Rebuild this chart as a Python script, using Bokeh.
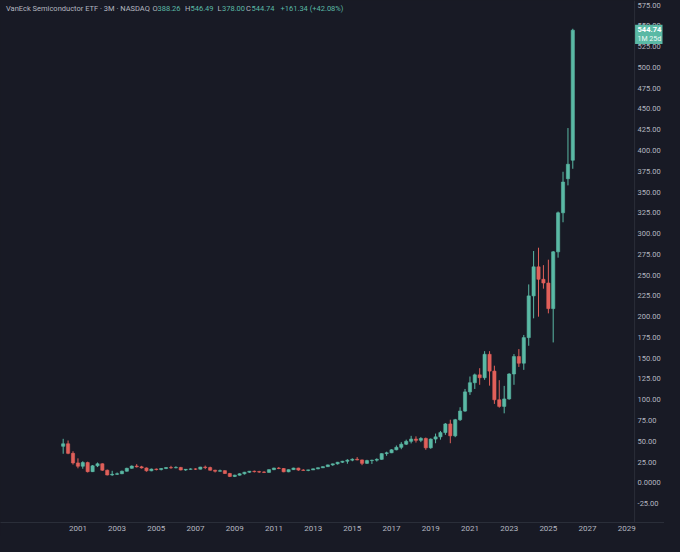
import pandas as pd
from bokeh.plotting import figure
from bokeh.core.properties import value
from bokeh.models import (ColumnDataSource, FixedTicker, DatetimeTickFormatter,
                          Range1d, Label, Span, GlobalInlineStyleSheet)
from bokeh.embed import file_html
from bokeh.resources import INLINE

# ---------------- data (quarterly candles, VanEck Semiconductor ETF) ----------------
first_quarter = "2000-04-01"
opens = [44, 47, 35.5, 24, 20, 24.4, 13.5, 20.5, 23, 15.2,
         9.5, 10.3, 11, 14, 17.5, 20.2, 19.3, 18, 14.5, 16.6,
         16, 17.3, 18.4, 18.1, 18.6, 15.5, 16.3, 16.8, 16.5, 19,
         18.4, 15.2, 14, 14.7, 11.3, 7.8, 9.3, 10.9, 12.8, 14,
         13.5, 13, 12.6, 15.9, 17.8, 17.3, 13.3, 15.9, 17.8, 15.4,
         15, 15.6, 16.9, 18.2, 19.5, 21.6, 22.9, 24.8, 26, 27.3,
         28.4, 27.6, 23.5, 26.8, 27.3, 28.3, 35.2, 36.2, 39.8, 42.8,
         46.5, 50, 52.7, 51.2, 53.5, 42.2, 52.7, 55.4, 60.5, 70.9,
         56.6, 76, 86.4, 109.5, 120.5, 130, 126.5, 154.7, 134.5, 100,
         92, 101, 131, 152, 144, 174.8, 225, 260, 245, 240.5,
         209.7, 278, 325, 366, 388.26]
highs = [53, 51, 38, 29.5, 26, 25.5, 21.5, 24.5, 23.5, 16,
         14.5, 12.5, 14.8, 18.2, 21, 22.5, 20.5, 18.5, 17.2, 17.3,
         17.8, 19, 20.5, 20, 19.2, 16.5, 17.5, 17.5, 19.3, 20.8,
         19.5, 15.8, 16, 15.2, 12, 9.8, 11.5, 13.2, 14.3, 14.8,
         14.5, 14, 16.2, 18.2, 19, 17.8, 16.2, 18.2, 18.2, 16.5,
         15.8, 17.2, 18.5, 19.8, 21.9, 23.2, 25.2, 26.5, 28.5, 29.5,
         31, 28, 27.8, 27.8, 29.5, 35.5, 37.5, 40.5, 45, 49,
         52, 56.6, 56, 55, 54.5, 53.5, 59.3, 62.5, 72, 76,
         77, 91, 113, 128, 131.5, 138, 158.5, 158.5, 141, 123.6,
         116.7, 132, 155, 161, 178, 238.8, 279, 283, 262, 268.6,
         279, 326.5, 374.4, 427, 546.49]
lows = [35, 34.5, 22, 17.5, 17, 12.5, 13, 19, 14.5, 9,
        8.5, 9.5, 10.5, 13.5, 17, 18.5, 17.2, 13.5, 14, 15,
        15, 16.5, 17, 17.5, 15, 14.5, 15.8, 15.5, 16.2, 16.5,
        14.8, 12.5, 13.5, 10.8, 7, 7, 8.8, 10, 12, 12.5,
        12, 11.8, 12.3, 15.3, 16.5, 12.8, 12.8, 15.6, 14.5, 14.6,
        14, 15.5, 16.4, 17.8, 19.2, 20.5, 22, 24, 23, 26,
        27.2, 21.3, 22.8, 22.8, 25.6, 27.8, 32.5, 35.8, 39.2, 40.5,
        45.5, 47.5, 48.5, 49, 39.8, 41, 47.7, 52, 57.8, 47.7,
        55, 74.5, 85.5, 105.8, 113, 118, 124, 117, 95, 90.5,
        83.7, 100, 118, 139.5, 136, 165, 198, 200, 233.7, 204,
        169, 271, 313.6, 358, 378.0]
closes = [47, 35.5, 24, 20, 24.4, 13.5, 20.5, 23, 15.2, 9.5,
          10.3, 11, 14, 17.5, 20.2, 19.3, 18, 14.5, 16.6, 16,
          17.3, 18.4, 18.1, 18.6, 15.5, 16.3, 16.8, 16.5, 19, 18.4,
          15.2, 14, 14.7, 11.3, 7.8, 9.3, 10.9, 12.8, 14, 13.5,
          13, 12.6, 15.9, 17.8, 17.3, 13.3, 15.9, 17.8, 15.4, 15,
          15.6, 16.9, 18.2, 19.5, 21.6, 22.9, 24.8, 26, 27.3, 28.4,
          27.6, 23.5, 26.8, 27.3, 28.3, 35.2, 36.2, 39.8, 42.8, 46.5,
          50, 52.7, 51.2, 53.5, 42.2, 52.7, 55.4, 60.5, 70.9, 56.6,
          76, 86.4, 109.5, 120.5, 130, 126.5, 154.7, 134.5, 100, 92,
          101, 131, 152, 144, 174.8, 225, 260, 245, 240.5, 209.7,
          278, 325, 362, 383.4, 544.74]

price_ticks = [-25, 0, 25, 50, 75, 100, 125, 150, 175, 200, 225, 250, 275, 300,
               325, 350, 375, 400, 425, 450, 475, 500, 525, 550, 575]
year_ticks = [2001, 2003, 2005, 2007, 2009, 2011, 2013, 2015, 2017, 2019,
              2021, 2023, 2025, 2027, 2029]

title_text = "VanEck Semiconductor ETF · 3M · NASDAQ"
last_open, last_high, last_low, last_close = "388.26", "546.49", "378.00", "544.74"
change_text = "+161.34 (+42.08%)"
countdown = "1M 25d"

# ---------------- style ----------------
BG = "#181a25"
UP = "#5ab9a5"
DOWN = "#e0605a"
TXT = "#b4b7c0"
LINE = "#2a2e39"
FONT = "Roboto"

dates = pd.date_range(first_quarter, periods=len(opens), freq="QS")
colors = [UP if c >= o else DOWN for o, c in zip(opens, closes)]
src = ColumnDataSource(dict(
    x=dates, o=opens, h=highs, l=lows, c=closes,
    top=[max(o, c) for o, c in zip(opens, closes)],
    bottom=[min(o, c) for o, c in zip(opens, closes)],
    color=colors,
))

W, H = 664, 536
x_start, x_end = pd.Timestamp("1997-01-19"), pd.Timestamp("2030-12-05")
scale_edge = pd.Timestamp("2029-05-27")     # left edge of the price scale column
label_x = pd.Timestamp("2029-07-21")        # where the price scale texts start
tag_right = pd.Timestamp("2030-10-29")

p = figure(width=W, height=H, x_axis_type="datetime",
           output_backend="svg", toolbar_location=None,
           x_range=Range1d(x_start, x_end), y_range=Range1d(-47.7, 580.5),
           min_border_left=0, min_border_top=0, min_border_right=0, min_border_bottom=14)

p.background_fill_color = BG
p.border_fill_color = BG
p.outline_line_color = None
p.xgrid.grid_line_color = None
p.ygrid.grid_line_color = None
p.yaxis.visible = False
p.stylesheets = [GlobalInlineStyleSheet(css=f"body {{ background: {BG}; }}")]

# date axis
p.xaxis.ticker = FixedTicker(ticks=[pd.Timestamp(f"{y}-01-01").value // 10**6 for y in year_ticks])
p.xaxis.formatter = DatetimeTickFormatter(years="%Y", months="%Y", days="%Y")
p.xaxis.major_label_text_font_size = "8px"
p.xaxis.major_label_text_color = TXT
p.xaxis.major_label_text_font = FONT
p.xaxis.major_tick_line_color = None
p.xaxis.minor_tick_line_color = None
p.xaxis.major_tick_out = 0
p.xaxis.major_tick_in = 0
p.xaxis.axis_line_color = LINE
p.xaxis.major_label_standoff = 3

# price scale column
p.add_layout(Span(location=scale_edge, dimension="height", line_color=LINE, line_width=1))
tick_labels = ["0.0000" if t == 0 else f"{t:.2f}" for t in price_ticks]
p.text(x=[label_x] * len(price_ticks), y=price_ticks, text=tick_labels,
       text_color=TXT, text_font_size="7.5px", text_font=value(FONT),
       text_baseline="middle", text_align="left")

# candles
bar_w = 60 * 24 * 3600 * 1000
p.segment(x0="x", y0="l", x1="x", y1="h", line_color="color", line_width=1, source=src)
p.vbar(x="x", width=bar_w, top="top", bottom="bottom", fill_color="color",
       line_color="color", line_width=0.6, source=src)

# last price tag
lc = float(last_close)
p.quad(left=[scale_edge], right=[tag_right], top=[lc + 6.5], bottom=[lc - 16.5],
       fill_color=UP, line_color=None)
p.text(x=[label_x], y=[lc + 0.5], text=[last_close],
       text_color="#ffffff", text_font_size="7.5px", text_font=value(FONT),
       text_font_style="bold", text_baseline="middle", text_align="left")
p.text(x=[label_x], y=[lc - 10], text=[countdown],
       text_color="#eefaf7", text_font_size="7px", text_font=value(FONT),
       text_baseline="middle", text_align="left")

# header legend
ty = 571
def lab(x, text, color):
    p.add_layout(Label(x=x, y=ty, x_units="screen", y_units="data", text=text,
                       text_color=color, text_font=FONT, text_font_size="7.5px",
                       text_baseline="middle", text_align="left"))

lab(5.5, title_text, TXT)
lab(152, "O", TXT); lab(157, last_open, UP)
lab(184.5, "H", TXT); lab(190, last_high, UP)
lab(217, "L", TXT); lab(221.5, last_low, UP)
lab(245.5, "C", TXT); lab(251, last_close, UP)
lab(280, change_text, UP)

open("out.html", "w").write(file_html(p, INLINE))
